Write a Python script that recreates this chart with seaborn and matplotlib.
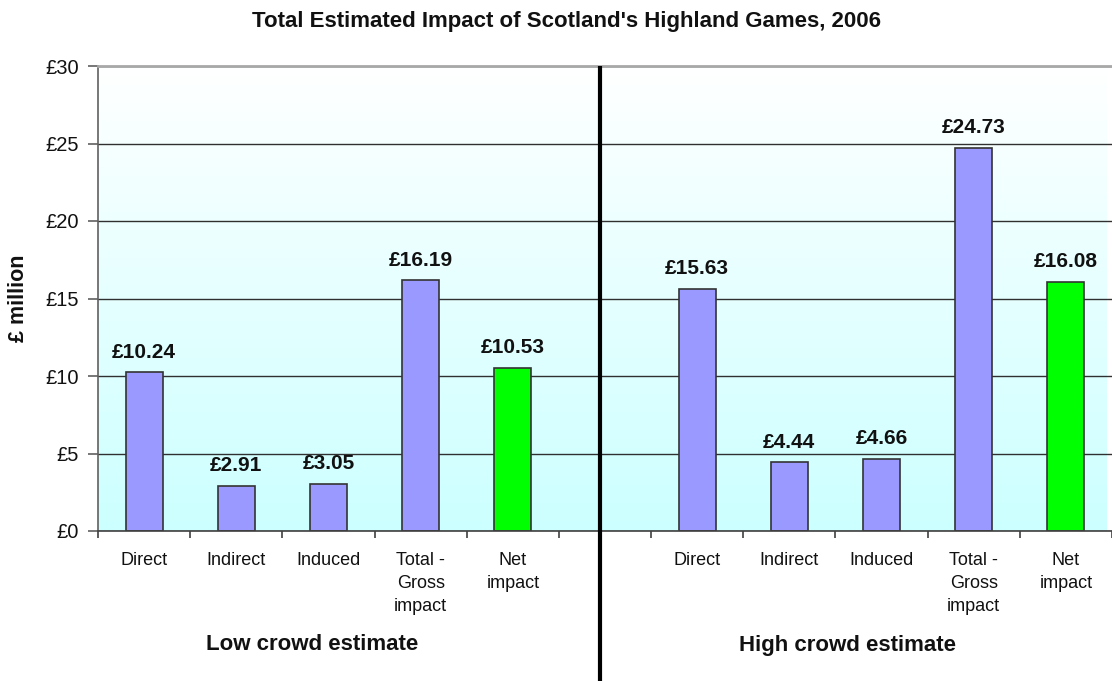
import numpy as np
import pandas as pd
import matplotlib
matplotlib.use("Agg")
import matplotlib.pyplot as plt
import matplotlib.transforms as mtransforms
from matplotlib.colors import LinearSegmentedColormap
import seaborn as sns

# ---- data ----
categories = ["Direct", "Indirect", "Induced", "Total -\nGross\nimpact", "Net\nimpact"]
low_values = [10.24, 2.91, 3.05, 16.19, 10.53]
high_values = [15.63, 4.44, 4.66, 24.73, 16.08]
group_labels = ["Low crowd estimate", "High crowd estimate"]
title = "Total Estimated Impact of Scotland's Highland Games, 2006"
ylabel = "£ million"
yticks = [0, 5, 10, 15, 20, 25, 30]

sns.set_theme(style="white")
plt.rcParams['font.family'] = ['Liberation Sans', 'DejaVu Sans']

# slots: 5 low, 1 gap, 5 high
slot_keys = [f"low_{i}" for i in range(5)] + ["gap"] + [f"high_{i}" for i in range(5)]
slot_vals = low_values + [np.nan] + high_values
slot_labels = categories + [""] + categories
bar_cols = ["#9999FF"] * 4 + ["#00FF00"]
slot_colors = bar_cols + ["#9999FF"] + bar_cols
df = pd.DataFrame({"slot": slot_keys, "value": slot_vals})

fig = plt.figure(figsize=(11.12, 6.81), dpi=100)
W, H = 1112, 681
ax = fig.add_axes([98 / W, 1 - 531 / H, 1 - 98 / W, (531 - 66) / H])

sns.barplot(data=df, x="slot", y="value", order=slot_keys, hue="slot",
            hue_order=slot_keys, palette=dict(zip(slot_keys, slot_colors)),
            width=0.4, edgecolor="#333333", linewidth=1.2, legend=False,
            saturation=1, ax=ax, zorder=2)

xl = (-0.5, -0.5 + (W - 98) / 92.7)
ax.set_xlim(*xl)
ax.set_ylim(0, 30)

# gradient background
cmap = LinearSegmentedColormap.from_list("bg", ["#CCFFFF", "#FFFFFF"])
grad = np.linspace(0, 1, 256).reshape(-1, 1)
ax.imshow(grad, cmap=cmap, aspect="auto", extent=(xl[0], xl[1], 0, 30),
          origin="lower", zorder=0)
ax.set_xlim(*xl)
ax.set_ylim(0, 30)

# grid
ax.set_yticks(yticks)
ax.set_yticklabels([f"£{v}" for v in yticks])
ax.yaxis.grid(True, color="#303030", lw=1.0, zorder=1)
ax.set_axisbelow(True)
for gl in ax.get_ygridlines():
    gl.set_zorder(1)

# spines
ax.spines["right"].set_visible(False)
ax.spines["top"].set_color("#A8A8A8")
ax.spines["top"].set_linewidth(2.0)
ax.spines["left"].set_color("#606060")
ax.spines["left"].set_linewidth(1.2)
ax.spines["bottom"].set_color("#404040")
ax.spines["bottom"].set_linewidth(1.2)

# x ticks
ax.set_xticks(range(len(slot_keys)))
ax.set_xticklabels(slot_labels, fontsize=13, color="#111111", linespacing=1.45)
ax.set_xticks(np.arange(-0.5, len(slot_keys) + 0.5, 1), minor=True)
ax.tick_params(axis="x", which="major", length=0, pad=15)
ax.tick_params(axis="x", which="minor", length=5, width=1.2, color="#404040",
               direction="out", bottom=True)
ax.tick_params(axis="y", which="major", length=7, width=1.2, color="#606060",
               direction="out", left=True, pad=7, labelsize=14.5, labelcolor="#111111")
ax.set_xlabel("")
ax.set_ylabel("")

# value labels
for i, v in enumerate(slot_vals):
    if np.isnan(v):
        continue
    ax.annotate(f"£{v:.2f}", xy=(i, v), xytext=(0, 7.5), textcoords="offset points",
                ha="center", va="bottom", fontsize=15, fontweight="bold",
                color="#111111")

# divider line
trans = mtransforms.blended_transform_factory(ax.transData, ax.transAxes)
ax.plot([4.942, 4.942], [1, -0.5], transform=trans, color="black", lw=3,
        clip_on=False, zorder=5, solid_capstyle="butt")

# group labels
trans2 = mtransforms.blended_transform_factory(ax.transData, fig.transFigure)
ax.text(1.82, 1 - 645 / H, group_labels[0], transform=trans2, ha="center",
        va="center", fontsize=16, fontweight="bold", color="#111111")
ax.text(7.63, 1 - 645 / H, group_labels[1], transform=trans2, ha="center",
        va="center", fontsize=16, fontweight="bold", color="#111111")

# y label & title
fig.text(19 / W, 1 - 298 / H, ylabel, rotation=90, ha="center", va="center",
         fontsize=15.5, fontweight="bold", color="#111111")
fig.text(567 / W, 1 - 22 / H, title, ha="center", va="center", fontsize=16,
         fontweight="bold", color="#111111")

fig.savefig("out.png", dpi=100)
